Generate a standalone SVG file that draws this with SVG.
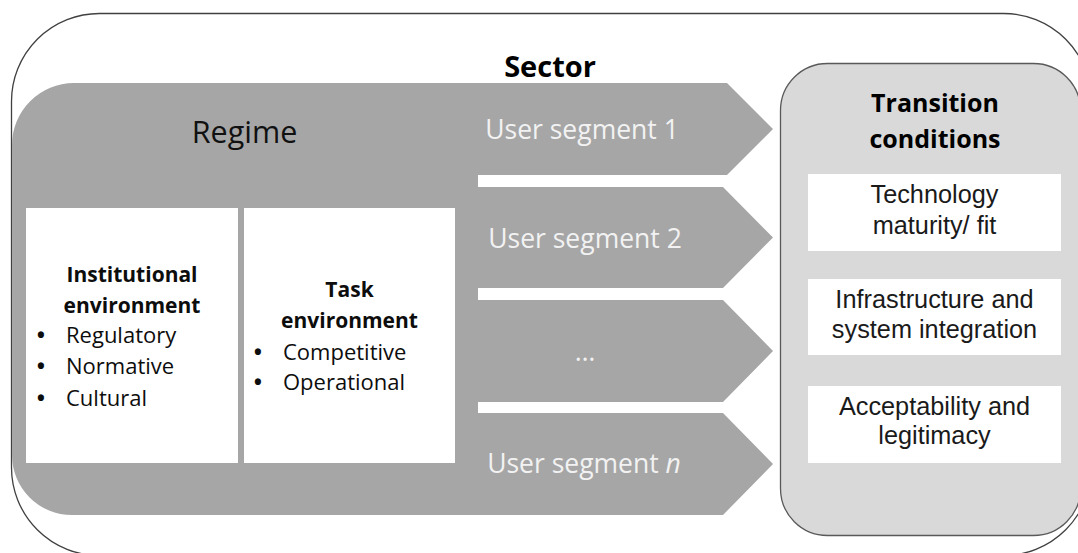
<svg xmlns="http://www.w3.org/2000/svg" width="1078" height="553" viewBox="0 0 1078 553">
<style>
.os{font-family:"Open Sans","Noto Sans","DejaVu Sans",sans-serif}
.ar{font-family:"Liberation Sans",Arial,sans-serif;font-size:25.3px;fill:#1a1a1a;text-anchor:middle}
.seg{font-family:"Open Sans","Noto Sans",sans-serif;font-size:26.5px;fill:#f2f2f2;text-anchor:middle}
.box{font-family:"Open Sans","Noto Sans",sans-serif;font-size:22px;fill:#0d0d0d}
.bt{font-size:21px}
.bul{font-family:"Open Sans","Noto Sans",sans-serif;font-size:22px;font-weight:bold;fill:#0d0d0d;text-anchor:middle}
.bold{font-weight:bold}
.wbox{fill:#ffffff}
</style>
<g id="sector">
<rect x="11.5" y="13.5" width="1080" height="542" rx="88" ry="88" fill="#ffffff" stroke="#404040" stroke-width="1.3"/>
<text class="os bold" x="550" y="77" font-size="29" fill="#000" text-anchor="middle">Sector</text>
</g>
<g id="transition-conditions">
<rect x="780.5" y="63.5" width="300" height="472" rx="47" ry="47" fill="#d9d9d9" stroke="#595959" stroke-width="1.3"/>
<text class="os bold" x="935" y="112" font-size="25" fill="#000" text-anchor="middle">Transition</text>
<text class="os bold" x="935" y="148" font-size="25" fill="#000" text-anchor="middle">conditions</text>
</g>
<g id="tc-technology">
<rect class="wbox" x="808" y="174" width="253" height="77"/>
<text class="ar" x="934.5" y="203">Technology</text>
<text class="ar" x="934.5" y="234">maturity/ fit</text>
</g>
<g id="tc-infrastructure">
<rect class="wbox" x="808" y="279" width="253" height="76"/>
<text class="ar" x="934.5" y="308">Infrastructure and</text>
<text class="ar" x="934.5" y="338">system integration</text>
</g>
<g id="tc-acceptability">
<rect class="wbox" x="808" y="386" width="253" height="77"/>
<text class="ar" x="934.5" y="415">Acceptability and</text>
<text class="ar" x="934.5" y="444">legitimacy</text>
</g>
<g id="regime">
<path d="M12,145 A62,62 0 0 1 74,83 L727,83 L773,129 L727,175 L478,175 L478,187 L723,187 L773,237.5 L723,288 L478,288 L478,300 L723,300 L773,351 L723,402 L478,402 L478,413 L723,413 L773,464 L723,515 L72,515 A60,60 0 0 1 12,455 Z" fill="#a6a6a6"/>
<text class="os" x="244.5" y="143" font-size="30.5" fill="#111" text-anchor="middle">Regime</text>
</g>
<g id="user-segment-1"><text class="seg" x="582" y="139">User segment 1</text></g>
<g id="user-segment-2"><text class="seg" x="585" y="248">User segment 2</text></g>
<g id="user-segment-dots"><text class="seg" x="585" y="361">…</text></g>
<g id="user-segment-n"><text class="seg" x="584" y="473">User segment <tspan font-style="italic">n</tspan></text></g>
<g id="institutional-environment">
<rect class="wbox" x="26" y="208" width="212" height="255"/>
<text class="box bt bold" x="132" y="282" text-anchor="middle">Institutional</text>
<text class="box bt bold" x="132" y="313" text-anchor="middle">environment</text>
<text class="bul" x="41" y="343">•</text><text class="box" x="66" y="343">Regulatory</text>
<text class="bul" x="41" y="374">•</text><text class="box" x="66" y="374">Normative</text>
<text class="bul" x="41" y="406">•</text><text class="box" x="66" y="406">Cultural</text>
</g>
<g id="task-environment">
<rect class="wbox" x="244" y="208" width="211" height="255"/>
<text class="box bt bold" x="349.5" y="297" text-anchor="middle">Task</text>
<text class="box bt bold" x="349.5" y="328" text-anchor="middle">environment</text>
<text class="bul" x="258" y="360">•</text><text class="box" x="283" y="360">Competitive</text>
<text class="bul" x="258" y="390">•</text><text class="box" x="283" y="390">Operational</text>
</g>
<g id="connectors"/>
</svg>
